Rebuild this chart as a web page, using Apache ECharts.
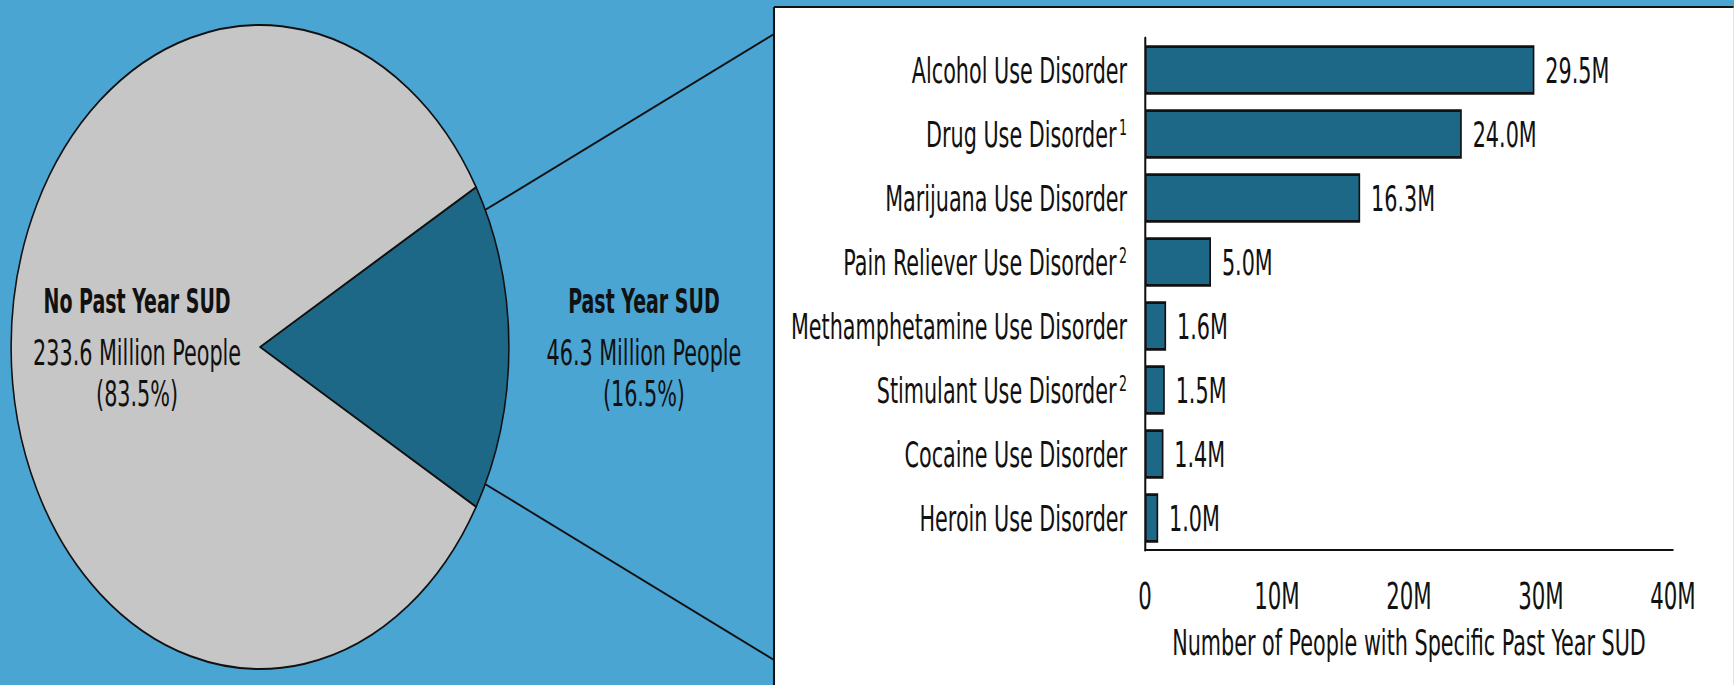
<!DOCTYPE html>
<html>
<head>
<meta charset="utf-8">
<title>Past Year Substance Use Disorder</title>
<script src="https://cdn.jsdelivr.net/npm/echarts@6/dist/echarts.min.js"></script>
<style>
  html, body { margin: 0; padding: 0; width: 1734px; height: 685px; overflow: hidden; background: #4aa5d2; }
  .layer { position: absolute; left: 0; top: 0; height: 685px; transform-origin: 0 0; }
</style>
</head>
<body>
<div id="pie" class="layer"></div>
<div id="main" class="layer"></div>
<script>
// Pie: people aged 12+ with and without a past year substance use disorder (millions)
const pieNames = ['Past Year SUD', 'No Past Year SUD'];
const pieValues = [46.3, 233.6];

// Bars: specific past year SUDs (millions of people)
const categories = [
  'Alcohol Use Disorder',
  'Drug Use Disorder',
  'Marijuana Use Disorder',
  'Pain Reliever Use Disorder',
  'Methamphetamine Use Disorder',
  'Stimulant Use Disorder',
  'Cocaine Use Disorder',
  'Heroin Use Disorder'
];
const footnotes = ['', '1', '', '2', '', '2', '', ''];
const values = [29.5, 24.0, 16.3, 5.0, 1.6, 1.5, 1.4, 1.0];

// Value axis ticks (millions)
const xMin = 0, xMax = 40, xStep = 10;
const xAxisTitle = 'Number of People with Specific Past Year SUD';

const H = 685;
const FONT = "'DejaVu Sans Condensed', 'Liberation Sans Narrow', sans-serif";
const BLUE = '#4aa5d2';
const TEAL = '#1c6886';
const GREY = '#c6c6c6';
const INK = '#111';

// Each layer is drawn in a wide frame and condensed horizontally to page width.
function makeLayer(id, squeeze) {
  const el = document.getElementById(id);
  const w = Math.round(1734 / squeeze);
  el.style.width = w + 'px';
  el.style.transform = 'scaleX(' + squeeze + ')';
  return { chart: echarts.init(el, null, { renderer: 'svg', width: w, height: H }), w, k: 1 / squeeze };
}

const total = pieValues.reduce((a, b) => a + b, 0);
const startAngle = 180 * pieValues[0] / total; // centre the SUD slice on the right

// Page-space layout (px)
const PIE_CX = 260, PIE_CY = 347, PIE_R = 322;
const PANEL_X = 774, PANEL_Y = 7;
const AXIS_X0 = 1145, AXIS_X1 = 1673, AXIS_TOP = 38, AXIS_BOTTOM = 550;

// ---------- Pie layer ----------
const P = makeLayer('pie', 0.773);
const pcx = PIE_CX * P.k;
const linkAngle = 25.2 * Math.PI / 180;
function linkLine(sign) {
  const x1 = pcx + PIE_R * Math.cos(linkAngle);
  const y1 = PIE_CY - sign * PIE_R * Math.sin(linkAngle);
  const x2 = PANEL_X * P.k + 4;
  const y2 = PIE_CY - sign * (x2 - pcx) * Math.tan(linkAngle);
  return { type: 'line', shape: { x1, y1, x2, y2 }, style: { stroke: INK, lineWidth: 2 } };
}
P.chart.setOption({
  backgroundColor: BLUE,
  animation: false,
  graphic: [linkLine(1), linkLine(-1)],
  series: [{
    type: 'pie',
    center: [pcx, PIE_CY],
    radius: PIE_R,
    startAngle: startAngle,
    clockwise: true,
    silent: true,
    itemStyle: { borderColor: INK, borderWidth: 2 },
    label: { show: false },
    labelLine: { show: false },
    data: [
      { name: pieNames[0], value: pieValues[0], itemStyle: { color: TEAL } },
      { name: pieNames[1], value: pieValues[1], itemStyle: { color: GREY } }
    ]
  }]
});

// ---------- Main layer: panel, bars and pie captions ----------
const M = makeLayer('main', 0.64);
const k = M.k;
const labelR = 2 * (PIE_CX - 139) * k;        // puts the inside caption of the left slice in place
const mcx = PIE_CX * k;

M.chart.setOption({
  backgroundColor: 'transparent',
  animation: false,
  textStyle: { fontFamily: FONT, color: INK },
  graphic: [
    { type: 'rect', z: -10, shape: { x: PANEL_X * k, y: PANEL_Y, width: M.w, height: H }, style: { fill: '#ffffff' } },
    { type: 'line', z: -9, shape: { x1: PANEL_X * k, y1: PANEL_Y, x2: PANEL_X * k, y2: H }, style: { stroke: INK, lineWidth: 3.2 } },
    { type: 'line', z: -9, shape: { x1: PANEL_X * k, y1: PANEL_Y, x2: M.w, y2: PANEL_Y }, style: { stroke: INK, lineWidth: 2.2 } }
  ],
  grid: { left: AXIS_X0 * k, right: M.w - AXIS_X1 * k, top: AXIS_TOP, bottom: H - AXIS_BOTTOM, containLabel: false },
  xAxis: {
    type: 'value',
    min: xMin, max: xMax, interval: xStep,
    axisLine: { show: true, lineStyle: { color: INK, width: 2.2 } },
    axisTick: { show: false },
    splitLine: { show: false },
    axisLabel: {
      margin: 27, fontSize: 37, color: INK, fontFamily: FONT,
      formatter: v => (v === 0 ? '0' : v + 'M')
    },
    name: xAxisTitle,
    nameLocation: 'middle',
    nameGap: 74,
    nameTextStyle: { fontSize: 36, color: INK, fontFamily: FONT }
  },
  yAxis: {
    type: 'category',
    inverse: true,
    data: categories,
    axisLine: { show: true, lineStyle: { color: INK, width: 3.2 } },
    axisTick: { show: false },
    axisLabel: {
      margin: 28, fontSize: 36, color: INK, fontFamily: FONT,
      formatter: (v, i) => footnotes[i] ? v + '{sup|' + footnotes[i] + '}' : v,
      rich: {
        sup: { fontSize: 22, fontFamily: FONT, color: INK, lineHeight: 22, verticalAlign: 'top', padding: [0, 0, 0, 4] }
      }
    }
  },
  series: [
    {
      // captions for the pie slices (the slices themselves are on the pie layer)
      type: 'pie',
      center: [mcx, PIE_CY],
      radius: labelR,
      startAngle: startAngle,
      clockwise: true,
      percentPrecision: 1,
      silent: true,
      itemStyle: { color: 'rgba(0,0,0,0)', borderWidth: 0 },
      labelLine: { show: false },
      label: {
        position: 'inside',
        offset: [0, -3],
        formatter: p => '{b|' + p.name + '}\n{v|' + p.value.toFixed(1) + ' Million People}\n{v|(' + p.percent.toFixed(1) + '%)}',
        rich: {
          b: { fontFamily: FONT, fontWeight: 'bold', fontSize: 33, lineHeight: 58, color: INK },
          v: { fontFamily: FONT, fontSize: 36, lineHeight: 42, color: INK }
        }
      },
      data: [
        { name: pieNames[0], value: pieValues[0], label: { offset: [(642 - PIE_CX) * k - labelR / 2, -3] } },
        { name: pieNames[1], value: pieValues[1] }
      ]
    },
    {
      type: 'bar',
      data: values,
      barCategoryGap: '23%',
      itemStyle: { color: TEAL, borderColor: INK, borderWidth: 2.6 },
      label: {
        show: true, position: 'right', distance: 17,
        fontSize: 36, color: INK, fontFamily: FONT,
        formatter: p => p.value.toFixed(1) + 'M'
      }
    }
  ]
});
</script>
</body>
</html>
